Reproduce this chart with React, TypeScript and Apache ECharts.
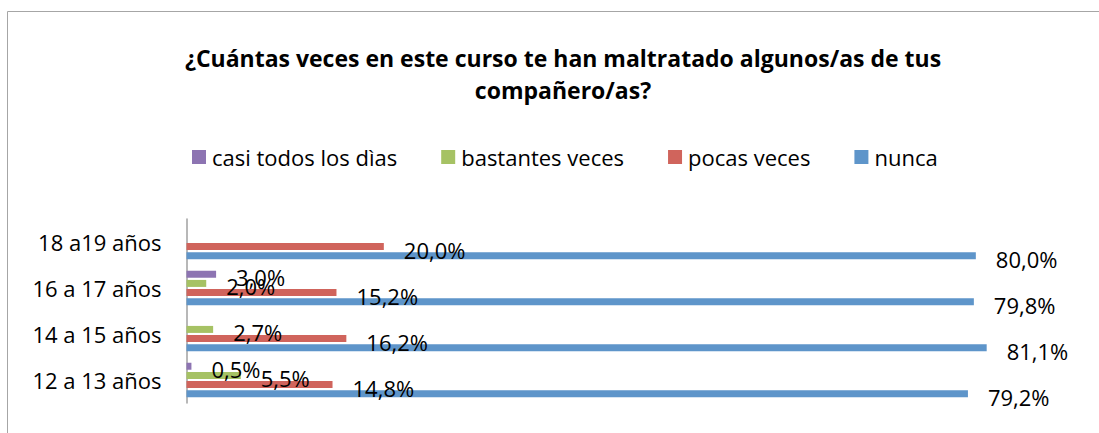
import React, { useEffect, useRef } from "react";
import * as echarts from "echarts";

const categories = ["12 a 13 años", "14 a 15 años", "16 a 17 años", "18 a19 años"];
const seriesNames = ["casi todos los dìas", "bastantes veces", "pocas veces", "nunca"];
const casiTodos = [0.5, 0, 3.0, 0];
const bastantes = [5.5, 2.7, 2.0, 0];
const pocas = [14.8, 16.2, 15.2, 20.0];
const nunca = [79.2, 81.1, 79.8, 80.0];
const colors = ["#8D74B2", "#A6C264", "#D0645C", "#5E95CA"];
const titleText = "¿Cuántas veces en este curso te han maltratado algunos/as de tus\ncompañero/as?";

const FONT = "'Open Sans', 'Noto Sans', sans-serif";

export default function App() {
  const ref = useRef<HTMLDivElement>(null);
  useEffect(() => {
    if (!ref.current) return;
    const chart = echarts.init(ref.current, null, { renderer: "svg" });
    const values = [casiTodos, bastantes, pocas, nunca];
    chart.setOption({
      animation: false,
      backgroundColor: "#ffffff",
      title: {
        text: titleText,
        left: 558,
        top: 37,
        textAlign: "center",
        textStyle: {
          fontFamily: FONT,
          fontSize: 23,
          fontWeight: "bold",
          color: "#000",
          lineHeight: 32,
        },
      },
      legend: {
        data: seriesNames,
        left: 187,
        top: 141,
        itemWidth: 14,
        itemHeight: 14,
        itemGap: 44,
        icon: "rect",
        textStyle: { fontFamily: FONT, fontSize: 22, color: "#000", padding: [0, 0, 0, 1] },
      },
      graphic: [
        {
          type: "rect",
          shape: { x: 7.5, y: 11.5, width: 2000, height: 1000 },
          style: { fill: "none", stroke: "#a6a6a6", lineWidth: 1 },
          silent: true,
        },
      ],
      grid: { left: 186.5, right: 24.5, top: 219, bottom: 30, containLabel: false },
      xAxis: {
        type: "value",
        min: 0,
        max: 90,
        show: false,
        splitLine: { show: false },
      },
      yAxis: {
        type: "category",
        data: categories,
        axisLine: { show: true, lineStyle: { color: "#a0a0a0", width: 1.5 } },
        axisTick: { show: false },
        axisLabel: { fontFamily: FONT, fontSize: 22, color: "#000", margin: 25 },
      },
      series: seriesNames.map((name, i) => ({
        name,
        type: "bar",
        data: values[i],
        barWidth: 7,
        barGap: "31%",
        itemStyle: { color: colors[i] },
        label: {
          show: true,
          position: "right",
          distance: 20,
          offset: [0, 3],
          fontFamily: FONT,
          fontSize: 22,
          color: "#000",
          formatter: (p: any) =>
            p.value ? p.value.toFixed(1).replace(".", ",") + "%" : "",
        },
      })),
    });
    return () => chart.dispose();
  }, []);
  return (
    <div
      ref={ref}
      style={{ position: "absolute", left: 0, top: 0, width: 1099, height: 433 }}
    />
  );
}
